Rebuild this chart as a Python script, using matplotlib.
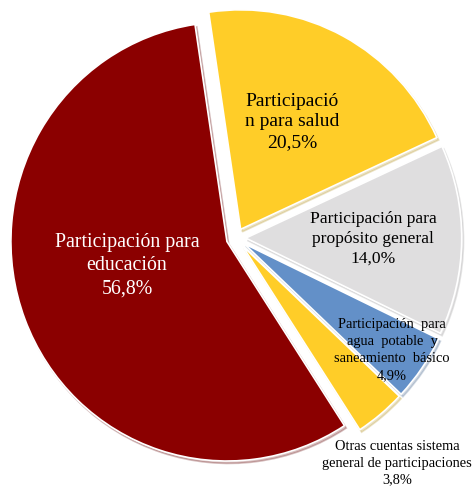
import matplotlib.pyplot as plt

# shares of the pie (percent), drawn clockwise starting from salud
categorias = ['Participación para salud', 'Participación para propósito general',
              'Participación para agua potable y saneamiento básico',
              'Otras cuentas sistema general de participaciones',
              'Participación para educación']
valores = [20.5, 14.0, 4.9, 3.8, 56.8]
colores = ['#FFCD28', '#DFDEDF', '#6390C8', '#FFCD28', '#8B0000']

etiquetas = ['Participació\nn para salud\n20,5%',
             'Participación para\npropósito general\n14,0%',
             'Participación  para\nagua  potable  y\nsaneamiento  básico\n4,9%',
             'Otras cuentas sistema\ngeneral de participaciones\n3,8%',
             'Participación para\neducación\n56,8%']

W, H = 475, 491
Rx, Ry = 216.0, 219.5  # pie radius in pixels (the original is a touch taller than wide)
cx, cy = 236, 238      # pie centre in pixels (from top-left)

fig = plt.figure(figsize=(W / 100, H / 100), dpi=100)
ax = fig.add_axes([0, 0, 1, 1])

ax.pie(valores, colors=colores, startangle=98.5, counterclock=False,
       explode=[0.045] * 5, radius=1.0,
       shadow={'ox': 0.006, 'oy': -0.008, 'shade': 0.3, 'alpha': 0.25},
       wedgeprops={'edgecolor': 'white', 'linewidth': 1.2})

# pie() resets limits, so set them afterwards
ax.set_aspect('auto')
ax.set_xlim(-cx / Rx, (W - cx) / Rx)
ax.set_ylim(-(H - cy) / Ry, cy / Ry)
ax.axis('off')

# label placement in pixels (centre of block), font size and colour
pos = [(292, 122), (373, 239), (392, 350), (397, 463), (127, 266)]
tam = [14.0, 12.6, 10.4, 10.4, 14.3]
col = ['black', 'black', 'black', 'black', 'white']
esp = [1.3, 1.32, 1.42, 1.32, 1.3]

for txt, (px, py), s, c, ls in zip(etiquetas, pos, tam, col, esp):
    ax.text((px - cx) / Rx, (cy - py) / Ry, txt, ha='center', va='center',
            multialignment='center', fontsize=s, color=c, linespacing=ls,
            family=['Liberation Serif', 'DejaVu Serif'])

fig.savefig('out.png', dpi=100)
